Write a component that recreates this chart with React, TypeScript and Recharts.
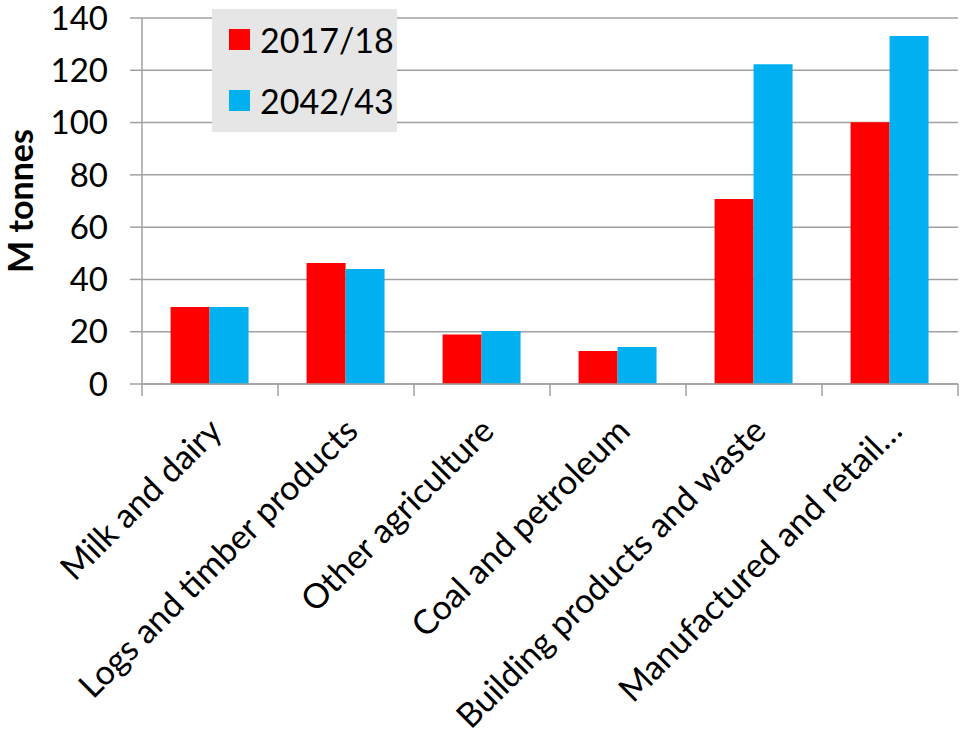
import React from 'react';
import { BarChart, Bar, XAxis, YAxis, CartesianGrid, Legend } from 'recharts';

const categories = [
  'Milk and dairy',
  'Logs and timber products',
  'Other agriculture',
  'Coal and petroleum',
  'Building products and waste',
  'Manufactured and retail…',
];
const values2017 = [29.5, 46.3, 18.9, 12.6, 70.8, 100.1];
const values2042 = [29.5, 44.0, 20.3, 14.2, 122.3, 133.1];
const yTicks = [0, 20, 40, 60, 80, 100, 120, 140];
const seriesNames = ['2017/18', '2042/43'];
const seriesColors = ['#ff0000', '#00b0f0'];

const data = categories.map((c, i) => ({ name: c, a: values2017[i], b: values2042[i] }));

const FONT = 'Lato, "Liberation Sans", sans-serif';
const GRID = '#a0a0a0';

const XTick = (props: any) => {
  const { x, y, payload, index, visibleTicksCount, width } = props;
  const half = payload && typeof payload.offset === 'number' && payload.offset > 0
    ? payload.offset
    : (width || 816) / (visibleTicksCount || 6) / 2;
  const tx = x + 14;
  const ty = y + 49;
  return (
    <g>
      <line x1={x - half} x2={x - half} y1={y} y2={y + 12} stroke={GRID} strokeWidth={1.5} />
      {index === visibleTicksCount - 1 && (
        <line x1={x + half} x2={x + half} y1={y} y2={y + 12} stroke={GRID} strokeWidth={1.5} />
      )}
      <text
        x={tx}
        y={ty}
        textAnchor="end"
        transform={`rotate(-45, ${tx}, ${ty})`}
        fontFamily={FONT}
        fontSize={34}
        fill="#000"
      >
        {payload.value}
      </text>
    </g>
  );
};

const LegendBox = () => (
  <div
    style={{
      background: '#e6e6e6',
      width: 185,
      height: 123,
      boxSizing: 'border-box',
      position: 'relative',
      fontFamily: FONT,
    }}
  >
    {seriesNames.map((n, i) => (
      <div
        key={n}
        style={{ position: 'absolute', left: 17, top: 20 + i * 61, height: 21, display: 'flex', alignItems: 'center' }}
      >
        <div style={{ width: 21, height: 21, background: seriesColors[i] }} />
        <span style={{ marginLeft: 10, fontSize: 34, color: '#000', lineHeight: '21px' }}>{n}</span>
      </div>
    ))}
  </div>
);

const YLabel = (props: any) => {
  const vb = props.viewBox || { x: 0, y: 18, width: 142, height: 366 };
  const cx = 33;
  const cy = vb.y + vb.height / 2;
  return (
    <text
      x={cx}
      y={cy}
      textAnchor="middle"
      transform={`rotate(-90, ${cx}, ${cy})`}
      fontFamily={FONT}
      fontWeight="bold"
      fontSize={34}
      fill="#000"
    >
      M tonnes
    </text>
  );
};

export default function App() {
  return (
    <div style={{ position: 'absolute', left: 0, top: 0, background: '#fff' }}>
      <BarChart
        width={961}
        height={738}
        data={data}
        margin={{ top: 18, right: 3, bottom: 0, left: 0 }}
        barCategoryGap="21%"
        barGap={0}
      >
        <CartesianGrid vertical={false} stroke={GRID} strokeWidth={1.5} />
        <XAxis
          dataKey="name"
          height={354}
          interval={0}
          tickLine={false}
          tickSize={0}
          tickMargin={0}
          axisLine={{ stroke: GRID, strokeWidth: 1.5 }}
          tick={<XTick />}
        />
        <YAxis
          width={142}
          domain={[0, 140]}
          ticks={yTicks}
          interval={0}
          tickSize={12}
          tickMargin={22}
          tickLine={{ stroke: GRID, strokeWidth: 1.5 }}
          axisLine={{ stroke: GRID, strokeWidth: 1.5 }}
          tick={{ fontFamily: FONT, fontSize: 33, fill: '#000' }}
          label={<YLabel />}
        />
        <Legend
          layout="horizontal"
          verticalAlign="middle"
          align="center"
          content={<LegendBox />}
          wrapperStyle={{ position: 'absolute', left: 212, top: 9, width: 185, height: 123 }}
        />
        <Bar dataKey="a" name={seriesNames[0]} fill={seriesColors[0]} isAnimationActive={false} />
        <Bar dataKey="b" name={seriesNames[1]} fill={seriesColors[1]} isAnimationActive={false} />
      </BarChart>
    </div>
  );
}
